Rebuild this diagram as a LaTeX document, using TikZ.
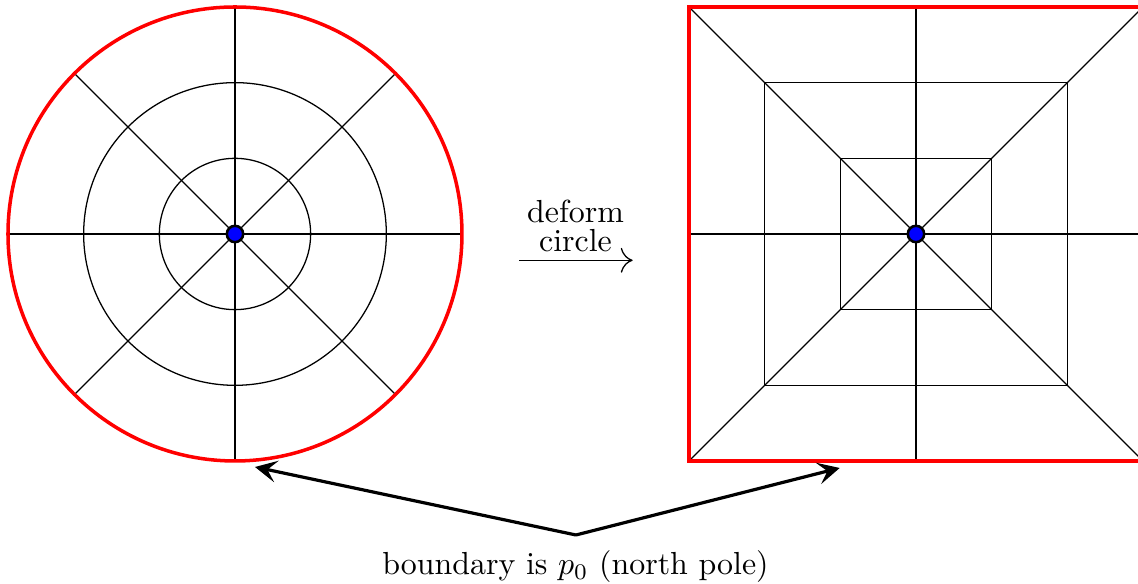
\documentclass[tikz,border=0pt]{standalone}
\usetikzlibrary{arrows.meta}
\begin{document}
\begin{tikzpicture}[
  mesh/.style={black, line width=0.4pt},
  bnd/.style={red, line width=1.1pt},
  pole/.style={circle, fill=blue, draw=black, line width=0.8pt, inner sep=0pt, minimum size=0.18cm},
  pointer/.style={black, line width=1pt, -{Stealth[length=2.4mm, width=2.4mm, inset=1mm]}}
]
\useasboundingbox (-2.588,-3.844) rectangle (9.945,2.577);
% left disk
\foreach \a in {0,45,...,315} \draw[mesh] (0,0) -- (\a:2.5);
\draw[mesh] (0,0) circle (0.8333);
\draw[mesh] (0,0) circle (1.6667);
\draw[bnd] (0,0) circle (2.5);
\node[pole] (c1) at (0,0) {};
% right square
\begin{scope}[shift={(7.5,0)}]
\foreach \p in {(2.5,0),(-2.5,0),(0,2.5),(0,-2.5),(2.5,2.5),(-2.5,2.5),(2.5,-2.5),(-2.5,-2.5)} \draw[mesh] (0,0) -- \p;
\draw[mesh] (-0.8333,-0.8333) rectangle (0.8333,0.8333);
\draw[mesh] (-1.6667,-1.6667) rectangle (1.6667,1.6667);
\draw[bnd] (-2.5,-2.5) rectangle (2.5,2.5);
\node[pole] (c2) at (0,0) {};
\end{scope}
% deform arrow
\coordinate (da) at (3.13,-0.29);
\coordinate (db) at (4.38,-0.29);
\draw[line width=0.4pt, -{Computer Modern Rightarrow[scale=1.5]}] (da) -- (db);
\node[align=center, inner sep=0pt, font=\normalsize] (dl) at (3.75,0.09) {deform\\[-3pt]circle};
% boundary label
\node (bl) at (3.75,-3.66) {boundary is $p_0$ (north pole)};
\coordinate (apex) at (3.755,-3.315);
\coordinate (t1) at (0.22,-2.566);
\coordinate (t2) at (6.66,-2.577);
\draw[pointer] (apex) -- (t1);
\draw[pointer] (apex) -- (t2);
\end{tikzpicture}
\end{document}
